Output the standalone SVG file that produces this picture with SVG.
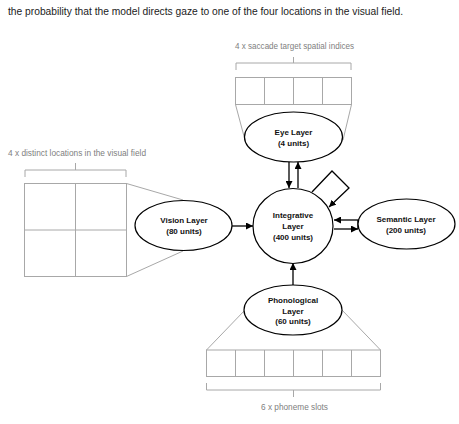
<svg xmlns="http://www.w3.org/2000/svg" width="459" height="424" viewBox="0 0 459 424">
<style>
.top{font-family:"Liberation Sans",Arial,sans-serif;font-size:11.5px;fill:#222}
.glab{font-family:"Liberation Sans",Arial,sans-serif;font-size:9px;fill:#808080}
.nlab{font-family:"Liberation Sans",Arial,sans-serif;font-size:8px;font-weight:bold;fill:#111;text-anchor:middle}
.grid{fill:none;stroke:#a8a8a8;stroke-width:1}
.node{fill:#fff;stroke:#000;stroke-width:1.2}
.conn{fill:none;stroke:#000;stroke-width:1.3;marker-end:url(#ah)}
</style>
<defs>
<marker id="ah" viewBox="0 0 10 10" refX="10" refY="5" markerWidth="7" markerHeight="7" markerUnits="userSpaceOnUse" orient="auto">
<path d="M0,0 L10,5 L0,10 z" fill="#000"/>
</marker>
</defs>
<rect width="459" height="424" fill="#fff"/>
<text class="top" x="8" y="15" textLength="395" lengthAdjust="spacingAndGlyphs">the probability that the model directs gaze to one of the four locations in the visual field.</text>

<g id="eye-field">
<text class="glab" x="235" y="49" textLength="119" lengthAdjust="spacingAndGlyphs">4 x saccade target spatial indices</text>
<path class="grid" d="M236,70 V63 H351 V70 M293.5,63 V57"/>
<rect class="grid" x="235.5" y="77.5" width="116" height="27"/>
<path class="grid" d="M264.5,77.5 V104.5 M293.5,77.5 V104.5 M322.5,77.5 V104.5"/>
<path class="grid" d="M235.5,104.5 L245,140 M351.5,104.5 L343,140"/>
</g>

<g id="vision-field">
<text class="glab" x="8" y="156" textLength="138" lengthAdjust="spacingAndGlyphs">4 x distinct locations in the visual field</text>
<path class="grid" d="M25,177 V170 H126 V177 M75.5,170 V163"/>
<rect class="grid" x="24.5" y="183.5" width="102" height="93"/>
<path class="grid" d="M75.5,183.5 V276.5 M24.5,230 H126.5"/>
<path class="grid" d="M126.5,183.5 L183,200 M126.5,276.5 L183,251"/>
</g>

<g id="phon-field">
<path class="grid" d="M245,310 L206.5,350 M342,310 L380.5,350"/>
<rect class="grid" x="206.5" y="350" width="174" height="26.5"/>
<path class="grid" d="M235.5,350 V376.5 M264.5,350 V376.5 M293.5,350 V376.5 M322.5,350 V376.5 M351.5,350 V376.5"/>
<path class="grid" d="M206.5,383 V390 H380.5 V383 M293.5,390 V397"/>
<text class="glab" x="261" y="410" textLength="67" lengthAdjust="spacingAndGlyphs">6 x phoneme slots</text>
</g>

<g id="connectors">
<line class="conn" x1="289" y1="162" x2="289" y2="188"/>
<line class="conn" x1="298" y1="188" x2="298" y2="162"/>
<line class="conn" x1="232" y1="226" x2="253" y2="226"/>
<line class="conn" x1="358" y1="220" x2="334" y2="220"/>
<line class="conn" x1="334" y1="229" x2="358" y2="229"/>
<line class="conn" x1="358" y1="220" x2="358" y2="229" style="marker-end:none"/>
<line class="conn" x1="293" y1="285" x2="293" y2="263"/>
<path class="conn" d="M312,192 L332,171 L349,188 L329,207"/>
</g>

<g id="eye">
<ellipse class="node" cx="293.5" cy="137" rx="49" ry="25"/>
<text class="nlab" x="293.5" y="135">Eye Layer</text>
<text class="nlab" x="293.5" y="146">(4 units)</text>
</g>
<g id="integrative">
<ellipse class="node" cx="293" cy="226" rx="40" ry="37.5"/>
<text class="nlab" x="293" y="218">Integrative</text>
<text class="nlab" x="293" y="229">Layer</text>
<text class="nlab" x="293" y="239.5">(400 units)</text>
</g>
<g id="vision">
<ellipse class="node" cx="183.5" cy="225.5" rx="48.5" ry="25"/>
<text class="nlab" x="184" y="223">Vision Layer</text>
<text class="nlab" x="184" y="234">(80 units)</text>
</g>
<g id="semantic">
<ellipse class="node" cx="406.5" cy="224" rx="48.5" ry="25"/>
<text class="nlab" x="406" y="222">Semantic Layer</text>
<text class="nlab" x="406" y="233">(200 units)</text>
</g>
<g id="phonological">
<ellipse class="node" cx="293" cy="310" rx="49" ry="25"/>
<text class="nlab" x="293" y="303">Phonological</text>
<text class="nlab" x="293" y="314">Layer</text>
<text class="nlab" x="293" y="324">(60 units)</text>
</g>
</svg>
